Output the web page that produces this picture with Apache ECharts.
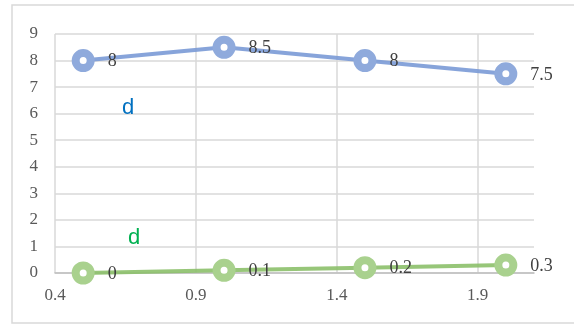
<!DOCTYPE html>
<html>
<head>
<meta charset="utf-8">
<script src="https://cdn.jsdelivr.net/npm/echarts@6/dist/echarts.min.js"></script>
<style>
  html, body { margin: 0; padding: 0; background: #ffffff; }
  #chart { width: 574px; height: 327px; }
</style>
</head>
<body>
<div id="chart"></div>
<script>
// x positions shared by both series
const xValues = [0.5, 1.0, 1.5, 2.0];
// upper (blue) series
const blueValues = [8, 8.5, 8, 7.5];
// lower (green) series
const greenValues = [0, 0.1, 0.2, 0.3];
// axis tick settings
const xTicks = { min: 0.4, max: 2.1, interval: 0.5 };
const yTicks = { min: 0, max: 9, interval: 1 };
// free-floating text labels
const noteTexts = ['d', 'd'];

const serif = '"Liberation Serif", "DejaVu Serif", serif';
const sans = '"Liberation Sans", "Open Sans", sans-serif';

function pairs(xs, ys) {
  return xs.map((x, i) => [x, ys[i]]);
}

function makeSeries(values, markColor, lineColor) {
  return {
    type: 'line',
    data: pairs(xValues, values),
    symbol: 'circle',
    symbolSize: 15,
    showAllSymbol: true,
    lineStyle: { color: lineColor, width: 4 },
    itemStyle: { color: '#ffffff', borderColor: markColor, borderWidth: 8 },
    emphasis: { disabled: true },
    z: 3,
    label: {
      show: true,
      position: 'right',
      distance: 13,
      formatter: p => String(p.value[1]),
      fontFamily: serif,
      fontSize: 18,
      color: '#404040',
      offset: [0, 1]
    },
    animation: false
  };
}

const chart = echarts.init(document.getElementById('chart'), null, { renderer: 'canvas' });

chart.setOption({
  animation: false,
  backgroundColor: '#ffffff',
  grid: { left: 55, top: 34, right: 40, bottom: 54, containLabel: false },
  xAxis: {
    type: 'value',
    min: xTicks.min,
    max: xTicks.max,
    interval: xTicks.interval,
    axisLine: { show: true, onZero: false, lineStyle: { color: '#bfbfbf', width: 1.5 } },
    axisTick: { show: false },
    axisLabel: {
      showMaxLabel: false,
      margin: 14,
      fontFamily: serif,
      fontSize: 17,
      color: '#595959',
      formatter: v => (Math.round(v * 10) / 10).toFixed(1)
    },
    splitLine: { show: true, showMinLine: true, showMaxLine: false, lineStyle: { color: '#d9d9d9', width: 1.5 } }
  },
  yAxis: {
    type: 'value',
    min: yTicks.min,
    max: yTicks.max,
    interval: yTicks.interval,
    axisLine: { show: false },
    axisTick: { show: false },
    axisLabel: {
      margin: 17,
      fontFamily: serif,
      fontSize: 17,
      color: '#595959'
    },
    splitLine: { show: true, lineStyle: { color: '#d9d9d9', width: 1.5 } }
  },
  series: [
    makeSeries(blueValues, '#8faadc', 'rgba(122,154,214,0.9)'),
    makeSeries(greenValues, '#a9d18e', 'rgba(140,192,106,0.9)')
  ],
  graphic: [
    {
      type: 'rect',
      shape: { x: 12, y: 5, width: 600, height: 318 },
      style: { fill: 'none', stroke: '#d9d9d9', lineWidth: 1.5 },
      silent: true,
      z: -1
    },
    {
      type: 'text',
      left: 122,
      top: 97,
      style: { text: noteTexts[0], fill: '#0070c0', font: '22px ' + sans },
      z: 5
    },
    {
      type: 'rect',
      shape: { x: 118, y: 115.5, width: 22, height: 8 },
      style: { fill: '#ffffff' },
      silent: true,
      z: 6
    },
    {
      type: 'text',
      left: 128,
      top: 227,
      style: { text: noteTexts[1], fill: '#00b050', font: '22px ' + sans },
      z: 5
    }
  ]
});
</script>
</body>
</html>
